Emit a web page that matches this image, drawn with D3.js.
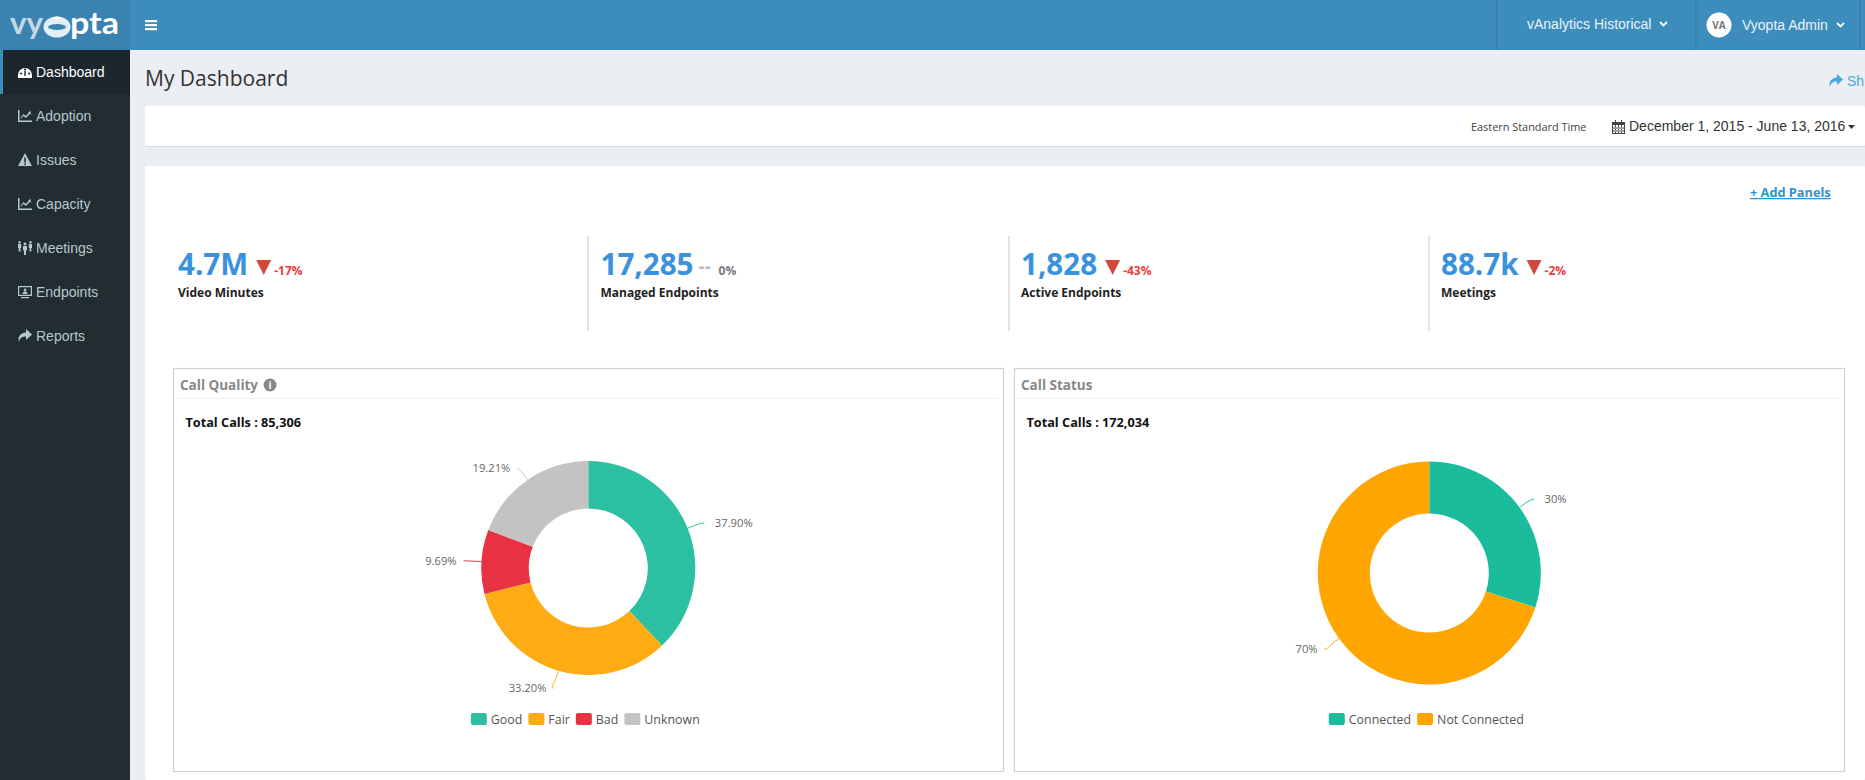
<!DOCTYPE html>
<html>
<head>
<meta charset="utf-8">
<title>My Dashboard</title>
<script src="https://cdnjs.cloudflare.com/ajax/libs/d3/7.8.5/d3.min.js"></script>
<style>
  html, body { margin: 0; padding: 0; background: #ecf0f5; overflow: hidden; }
  svg { display: block; }
  .os { font-family: "Open Sans", sans-serif; }
  .ls { font-family: "Liberation Sans", Arial, sans-serif; }
</style>
</head>
<body>
<svg id="page" width="1865" height="780"></svg>
<script>
var navLabels = ['Dashboard', 'Adoption', 'Issues', 'Capacity', 'Meetings', 'Endpoints', 'Reports'];

var kpiValues = ['4.7M', '17,285', '1,828', '88.7k'];
var kpiChanges = ['-17%', '0%', '-43%', '-2%'];
var kpiLabels = ['Video Minutes', 'Managed Endpoints', 'Active Endpoints', 'Meetings'];

var qualityNames = ['Good', 'Fair', 'Bad', 'Unknown'];
var qualityValues = [37.90, 33.20, 9.69, 19.21];
var qualityLabels = ['37.90%', '33.20%', '9.69%', '19.21%'];
var qualityColors = ['#2bc0a1', '#ffab14', '#e83143', '#c3c3c3'];

var statusNames = ['Connected', 'Not Connected'];
var statusValues = [30, 70];
var statusLabels = ['30%', '70%'];
var statusColors = ['#1abc9c', '#ffa500'];

var width = 1865, height = 780;
var svg = d3.select('#page');

// page frame
svg.append('rect').attr('width', width).attr('height', height).attr('fill', '#ebeef3');
svg.append('rect').attr('width', width).attr('height', 50).attr('fill', '#3d8dbc');
svg.append('rect').attr('width', 130).attr('height', 50).attr('fill', '#3a82b0');
svg.append('rect').attr('y', 50).attr('width', 130).attr('height', 730).attr('fill', '#222d32');

// logo
var logo = svg.append('g').attr('font-family', 'Lato, sans-serif').attr('font-size', 30).attr('font-weight', 700);
logo.append('text').attr('x', 10).attr('y', 34).attr('fill', '#c4d9e7')
  .attr('textLength', 33).attr('lengthAdjust', 'spacingAndGlyphs').text('vy');
logo.append('text').attr('x', 70).attr('y', 34).attr('fill', '#ffffff')
  .attr('textLength', 49).attr('lengthAdjust', 'spacingAndGlyphs').text('pta');
logo.append('ellipse').attr('cx', 57).attr('cy', 27).attr('rx', 13.5).attr('ry', 10.5).attr('fill', '#e4eef5');
logo.append('ellipse').attr('cx', 57).attr('cy', 27).attr('rx', 9).attr('ry', 3).attr('fill', '#3a82b0');
logo.append('ellipse').attr('cx', 57).attr('cy', 18).attr('rx', 4).attr('ry', 1.5).attr('fill', '#ffffff');

// hamburger
[20, 24, 28].forEach(function(y){
  svg.append('rect').attr('x', 145).attr('y', y).attr('width', 12).attr('height', 2.2).attr('fill', '#ffffff');
});

// header right side
[1496, 1695, 1859].forEach(function(x){
  svg.append('rect').attr('x', x).attr('width', 1.5).attr('height', 50).attr('fill', '#367fa9');
});
var chevron = function(x, y){
  svg.append('path')
    .attr('d', d3.line()([[x, y - 2], [x + 3.5, y + 1.5], [x + 7, y - 2]]))
    .attr('fill', 'none').attr('stroke', '#ffffff').attr('stroke-width', 1.8);
};
svg.append('text').attr('class', 'ls').attr('x', 1527).attr('y', 29).attr('font-size', 14)
  .attr('fill', '#eaf2f8').text('vAnalytics Historical');
chevron(1660, 24);
svg.append('circle').attr('cx', 1719).attr('cy', 25).attr('r', 12.5).attr('fill', '#ffffff');
svg.append('text').attr('class', 'os').attr('x', 1719).attr('y', 29).attr('font-size', 10)
  .attr('font-weight', 700).attr('text-anchor', 'middle').attr('fill', '#777777').text('VA');
svg.append('text').attr('class', 'ls').attr('x', 1742).attr('y', 30).attr('font-size', 14)
  .attr('fill', '#eaf2f8').text('Vyopta Admin');
chevron(1837, 25);

// sidebar
var navScale = d3.scalePoint().domain(navLabels).range([72, 336]);
svg.append('rect').attr('y', 50).attr('width', 130).attr('height', 44).attr('fill', '#1c262c');
svg.append('rect').attr('y', 50).attr('width', 3).attr('height', 44).attr('fill', '#3d8dbc');

var chartIcon = 'M0 1h1.500v10.500H14V13H0zM2.500 9l3-4 2.500 2 3-4 2-1-.5 4-1-1-3.500 4-2.500-2-3 3z';
var icons = {
  Dashboard: 'M0 10a7 7 0 0 1 14 0v3H0zM3 7.500a1 1 0 1 0 .1 0zM7 3.500a1 1 0 1 0 .1 0zM11 7.500a1 1 0 1 0 .1 0zM6.300 6h1.400v5H6.300z',
  Adoption: chartIcon,
  Issues: 'M7 0l7 13H0zM6.200 4.500v5h1.600v-5zM6.200 10.500v1.500h1.600v-1.500z',
  Capacity: chartIcon,
  Meetings: 'M1.500 0a1.300 1.300 0 1 0 .1 0zM0 3h3.200v4H2.500V10.500H.7V7H0zM7 1.500a1.500 1.500 0 1 0 .1 0zM5 5h4v4.500H8V14H6V9.500H5zM12.500 0a1.300 1.300 0 1 0 .1 0zM10.800 3H14v4h-.7V10.500h-1.800V7h-.7z',
  Endpoints: 'M0 1h14v10H0zM1.200 2.200v7.600h11.600V2.200zM7 3.500a1.400 1.400 0 1 0 .1 0zM4.500 9c.2-2 1.200-2.500 2.500-2.500S9.300 7 9.500 9zM3 12h8v1.200H3z',
  Reports: 'M8 0l6 5.500-6 5.500V7.500C4 7.500 1.800 9 1 13c-1.500-5 1-9 7-9.500z'
};
navLabels.forEach(function(d, i){
  var y = navScale(d);
  svg.append('path').attr('d', icons[d]).attr('transform', 'translate(18,' + (y - 7) + ')')
    .attr('fill', i == 0 ? '#ffffff' : '#b8c7ce').attr('fill-rule', 'evenodd');
  svg.append('text').attr('class', 'ls').attr('x', 36).attr('y', y + 5).attr('font-size', 14)
    .attr('fill', i == 0 ? '#ffffff' : '#b8c7ce').text(d);
});

// title row and filter bar
svg.append('text').attr('class', 'os').attr('x', 145).attr('y', 86).attr('font-size', 21)
  .attr('fill', '#333333').text('My Dashboard');
svg.append('path').attr('transform', 'translate(1829,74)').attr('d', icons.Reports).attr('fill', '#4aa8e0');
svg.append('text').attr('class', 'ls').attr('x', 1847).attr('y', 86).attr('font-size', 14)
  .attr('fill', '#4aa8e0').text('Sh');

svg.append('rect').attr('x', 145).attr('y', 106).attr('width', 1720).attr('height', 40).attr('rx', 2).attr('fill', '#ffffff');
svg.append('rect').attr('x', 145).attr('y', 146).attr('width', 1720).attr('height', 1).attr('fill', '#d8dde4');
svg.append('text').attr('class', 'os').attr('x', 1471).attr('y', 131).attr('font-size', 10.9)
  .attr('fill', '#444444').text('Eastern Standard Time');
svg.append('path').attr('transform', 'translate(1612,120)')
  .attr('d', 'M0 2h3V0h1v2h5V0h1v2h3v12H0zM1 5v8h11V5zM3 5v8h1V5zM6 5v8h1V5zM9 5v8h1V5zM1 7.500h11v1H1zM1 10.500h11v1H1z')
  .attr('fill', '#444444').attr('fill-rule', 'evenodd');
svg.append('text').attr('class', 'ls').attr('x', 1629).attr('y', 131).attr('font-size', 14)
  .attr('fill', '#333333').text('December 1, 2015 - June 13, 2016');
svg.append('path').attr('d', d3.line()([[1848, 125], [1855, 125], [1851.5, 129]])).attr('fill', '#333333');

// main card
svg.append('rect').attr('x', 145).attr('y', 166).attr('width', 1720).attr('height', 614).attr('rx', 2).attr('fill', '#ffffff');
svg.append('text').attr('class', 'os').attr('x', 1750).attr('y', 197).attr('font-size', 12.75)
  .attr('font-weight', 700).attr('fill', '#2a94d8').attr('text-decoration', 'underline').text('+ Add Panels');

// kpi row
var kpiX = [178, 600.5, 1021, 1441];
[587, 1008, 1428].forEach(function(x){
  svg.append('rect').attr('x', x).attr('y', 236).attr('width', 2).attr('height', 95).attr('fill', '#e0e2e4');
});
kpiLabels.forEach(function(d, i){
  var x = kpiX[i];
  var big = svg.append('text').attr('class', 'os').attr('x', x).attr('y', 275).attr('font-size', 29.6)
    .attr('font-weight', 700).attr('fill', '#3b92dc').text(kpiValues[i]);
  var end = x + big.node().getComputedTextLength();
  var flat = kpiChanges[i] == '0%';
  if (flat) {
    svg.append('text').attr('class', 'os').attr('x', end + 5).attr('y', 273).attr('font-size', 19)
      .attr('font-weight', 700).attr('fill', '#bbbbbb').text('--');
  } else {
    svg.append('path').attr('d', d3.line()([[end + 8, 260], [end + 23, 260], [end + 15.5, 275]])).attr('fill', '#cf4a3c');
  }
  svg.append('text').attr('class', 'os').attr('x', end + (flat ? 25 : 26)).attr('y', 275).attr('font-size', 12)
    .attr('font-weight', 700).attr('fill', flat ? '#777777' : '#ee3a40').text(kpiChanges[i]);
  svg.append('text').attr('class', 'os').attr('x', x).attr('y', 297).attr('font-size', 12)
    .attr('font-weight', 700).attr('fill', '#222222').text(d);
});

// donut panels
var drawPanel = function(p){
  var g = svg.append('g');
  g.append('rect').attr('x', p.x + 0.5).attr('y', 368.5).attr('width', p.w).attr('height', 403)
    .attr('fill', '#ffffff').attr('stroke', '#d2d2d2').attr('stroke-width', 1.2);
  g.append('rect').attr('x', p.x + 4).attr('y', 398).attr('width', p.w - 8).attr('height', 1).attr('fill', '#eeeeee');
  var title = g.append('text').attr('class', 'os').attr('x', p.x + 7).attr('y', 390).attr('font-size', 13.5)
    .attr('font-weight', 700).attr('fill', '#888888').text(p.title);
  if (p.info) {
    var ix = p.x + 7 + title.node().getComputedTextLength() + 12;
    g.append('circle').attr('cx', ix).attr('cy', 385).attr('r', 6.5).attr('fill', '#888888');
    g.append('text').attr('class', 'os').attr('x', ix).attr('y', 389).attr('font-size', 10).attr('font-weight', 700)
      .attr('text-anchor', 'middle').attr('fill', '#ffffff').text('i');
  }
  g.append('text').attr('class', 'os').attr('x', p.x + 12.5).attr('y', 427).attr('font-size', 12.7)
    .attr('font-weight', 700).attr('fill', '#111111').text(p.total);

  var color = d3.scaleOrdinal().domain(p.names).range(p.colors);
  var pie = d3.pie().sort(null);
  var arcs = pie(p.values);
  var arc = d3.arc().innerRadius(p.inner).outerRadius(p.r);
  var slices = g.append('g').attr('transform', 'translate(' + p.cx + ',' + p.cy + ')');

  slices.selectAll('path.slice').data(arcs).enter().append('path')
    .attr('class', 'slice')
    .attr('d', arc)
    .attr('fill', function(d, i){ return color(p.names[i]); });

  // connector lines and % labels, the upper ones flatten out a little
  var mid = function(d){ return (d.startAngle + d.endAngle) / 2; };
  var radial = function(a, rr){ return [rr * Math.sin(a), -rr * Math.cos(a)]; };
  var anchor = function(d){
    var a = mid(d), e = radial(a, p.r + 18);
    return [e[0], e[1] + (Math.cos(a) > 0 ? 4 * Math.cos(a) : 0)];
  };
  slices.selectAll('path.link').data(arcs).enter().append('path')
    .attr('class', 'link')
    .attr('d', function(d){
      var a = mid(d), s = radial(a, p.r), m = radial(a, p.r + 9), e = anchor(d);
      var side = Math.sin(a) >= 0 ? 1 : -1;
      return d3.line().curve(d3.curveBasis)([s, s, m, [m[0] + side * 5, e[1]], e, e]);
    })
    .attr('fill', 'none')
    .attr('stroke', function(d, i){ return color(p.names[i]); })
    .attr('stroke-width', 1);

  slices.selectAll('text').data(arcs).enter().append('text')
    .attr('class', 'os')
    .attr('font-size', 11.2)
    .attr('fill', '#666666')
    .attr('text-anchor', function(d){ return mid(d) < Math.PI ? 'start' : 'end'; })
    .attr('x', function(d){ return anchor(d)[0] + (mid(d) < Math.PI ? 10.5 : -7); })
    .attr('y', function(d){ return anchor(d)[1] + 4; })
    .text(function(d, i){ return p.labels[i]; });

  // legend, centred under the donut
  var legend = g.append('g');
  var lx = 0;
  p.names.forEach(function(name){
    var item = legend.append('g').attr('transform', 'translate(' + lx + ',0)');
    item.append('rect').attr('y', 713).attr('width', 16).attr('height', 12).attr('rx', 2).attr('fill', color(name));
    var t = item.append('text').attr('class', 'os').attr('x', 20).attr('y', 724).attr('font-size', 12.4)
      .attr('fill', '#555555').text(name);
    lx += 20 + t.node().getComputedTextLength() + 6;
  });
  legend.attr('transform', 'translate(' + (p.cx - 3 - (lx - 6) / 2) + ',0)');
};

drawPanel({ x: 173, w: 830, title: 'Call Quality', info: true, total: 'Total Calls : 85,306',
  cx: 588.3, cy: 568, r: 107, inner: 59.5,
  names: qualityNames, values: qualityValues, labels: qualityLabels, colors: qualityColors });
drawPanel({ x: 1014, w: 830, title: 'Call Status', info: false, total: 'Total Calls : 172,034',
  cx: 1429.3, cy: 573, r: 111.5, inner: 59.5,
  names: statusNames, values: statusValues, labels: statusLabels, colors: statusColors });
</script>
</body>
</html>
